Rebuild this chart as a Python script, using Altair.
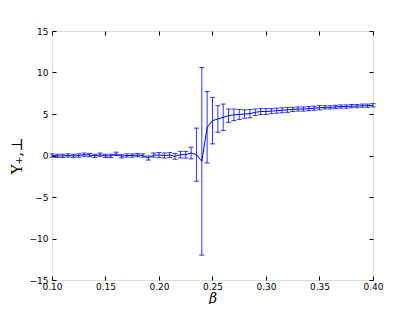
import altair as alt
import pandas as pd

beta = [round(0.100 + 0.005 * i, 3) for i in range(61)]
vals = [0.00, -0.05, -0.05, 0.00, -0.05, 0.00, 0.10, 0.05, -0.05, 0.10,
        -0.05, -0.05, 0.20, -0.10, 0.00, 0.00, 0.05, 0.00, -0.30, 0.05,
        0.05, 0.00, 0.05, -0.10, 0.10, 0.10, 0.30, 0.10, -0.70, 3.40,
        4.20, 4.40, 4.60, 4.80, 4.90, 4.95, 5.00, 5.05, 5.20, 5.30,
        5.30, 5.35, 5.40, 5.45, 5.50, 5.55, 5.60, 5.60, 5.65, 5.70,
        5.75, 5.80, 5.80, 5.85, 5.90, 5.90, 5.95, 5.95, 6.00, 6.00, 6.05]
errs = [0.20, 0.20, 0.20, 0.20, 0.20, 0.20, 0.20, 0.20, 0.20, 0.20,
        0.20, 0.20, 0.20, 0.20, 0.20, 0.20, 0.20, 0.20, 0.25, 0.25,
        0.30, 0.30, 0.30, 0.35, 0.40, 0.40, 0.70, 3.20, 11.30, 4.30,
        2.80, 1.60, 1.60, 0.80, 0.70, 0.60, 0.50, 0.50, 0.40, 0.35,
        0.35, 0.30, 0.30, 0.30, 0.30, 0.25, 0.25, 0.25, 0.25, 0.25,
        0.25, 0.20, 0.20, 0.20, 0.20, 0.20, 0.20, 0.20, 0.20, 0.20, 0.20]
x_ticks = [0.10, 0.15, 0.20, 0.25, 0.30, 0.35, 0.40]
y_ticks = [-15, -10, -5, 0, 5, 10, 15]

df = pd.DataFrame({"beta": beta, "val": vals, "err": errs})
df["lo"] = df["val"] - df["err"]
df["hi"] = df["val"] + df["err"]

xs = alt.Scale(domain=[0.10, 0.40], nice=False, zero=False)
ys = alt.Scale(domain=[-15, 15], nice=False, zero=False)

ax_common = dict(domain=False, tickColor="black", tickSize=4, offset=-4, labelFlush=False,
                 labelFont="DejaVu Sans", labelFontSize=9, labelColor="black", grid=False)

x_bottom = alt.Axis(values=x_ticks, format=".2f",
                    title="β", titleFont="DejaVu Serif", titleFontStyle="italic",
                    titleFontWeight="normal", titleFontSize=14, titlePadding=0,
                    labelPadding=2, orient="bottom", **ax_common)
y_left = alt.Axis(values=y_ticks, title="Υ₊,⊥",
                  titleFont="DejaVu Serif", titleFontWeight="normal", titleFontSize=15,
                  titlePadding=5, labelPadding=4, orient="left", **ax_common)
x_top = alt.Axis(values=x_ticks, labels=False, title=None, orient="top", **ax_common)
y_right = alt.Axis(values=y_ticks, labels=False, title=None, orient="right", **ax_common)

base = alt.Chart(df)
rules = base.mark_rule(color="#0000ff", opacity=0.8, strokeWidth=1).encode(
    x=alt.X("beta:Q", scale=xs, axis=x_top),
    y=alt.Y("lo:Q", scale=ys, axis=y_right),
    y2="hi:Q",
)
caps_lo = base.mark_tick(color="#0000ff", opacity=0.8, thickness=1, size=5, orient="horizontal").encode(
    x=alt.X("beta:Q", scale=xs, axis=x_top), y=alt.Y("lo:Q", scale=ys, axis=y_right))
caps_hi = base.mark_tick(color="#0000ff", opacity=0.8, thickness=1, size=5, orient="horizontal").encode(
    x=alt.X("beta:Q", scale=xs, axis=x_top), y=alt.Y("hi:Q", scale=ys, axis=y_right))
bars = alt.layer(rules, caps_lo, caps_hi)

line = base.mark_line(color="#0000ff", strokeWidth=1).encode(
    x=alt.X("beta:Q", scale=xs, axis=x_bottom),
    y=alt.Y("val:Q", scale=ys, axis=y_left),
)

chart = alt.layer(line, bars).resolve_axis(x="independent", y="independent").properties(
    width=321, height=249,
    autosize=alt.AutoSizeParams(type="none"),
    padding={"left": 44, "top": 23, "right": 34, "bottom": 24},
).configure_view(stroke="black", strokeWidth=1).configure(background="white")

chart.save("out.html", embed_options={"renderer": "svg", "actions": False})
